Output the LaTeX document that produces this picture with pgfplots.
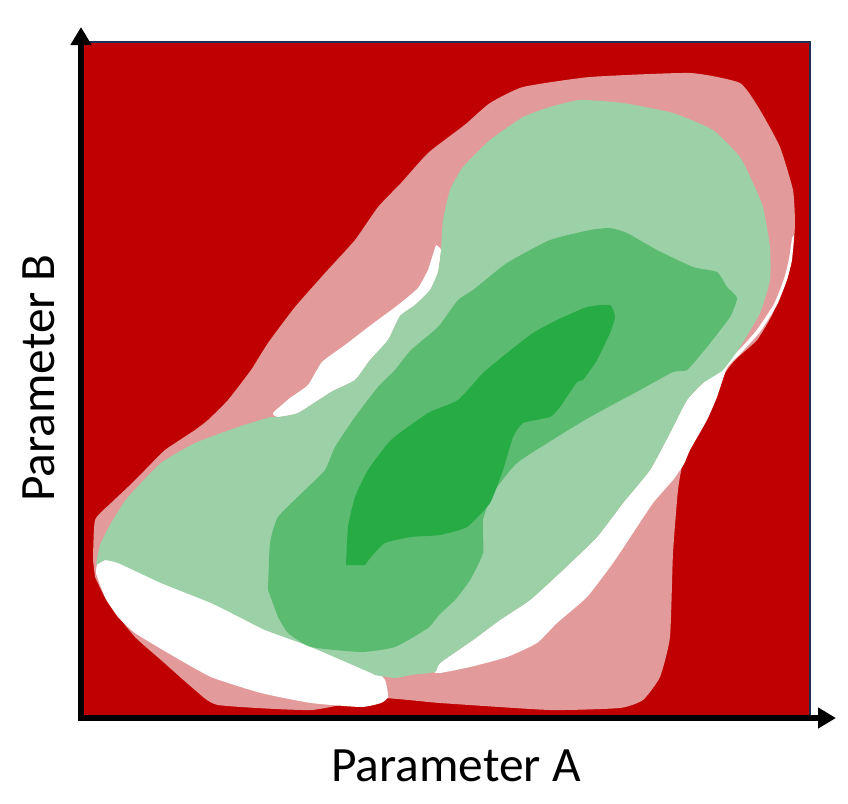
\documentclass[border=0pt]{standalone}
\usepackage{pgfplots}
\pgfplotsset{compat=1.18}
\usetikzlibrary{arrows.meta}
\usepackage{fontspec}
\setmainfont{Carlito}
\definecolor{bgred}{HTML}{C00000}
\definecolor{pinkc}{HTML}{E39A9B}
\definecolor{lgreen}{HTML}{9CD0A7}
\definecolor{mgreen}{HTML}{5BBB70}
\definecolor{dgreen}{HTML}{27AB45}
\definecolor{navy}{HTML}{1F3050}
\begin{document}
\begin{tikzpicture}
\begin{axis}[scale only axis, width=364.5pt, height=337.5pt,
  xmin=81, xmax=810, ymin=42, ymax=717, y dir=reverse,
  axis lines=none, clip=false]
% background
\addplot[fill=bgred, draw=navy, line width=0.8pt] coordinates {(81,42) (810,42) (810,717) (81,717)} -- cycle;
% pink
\addplot[fill=pinkc, draw=none, smooth, tension=0.3] coordinates {
(93,560) (95,520) (111,503) (128,487) (145,470) (165,450) (195,430) (208,420) (228,400) (251,370)
(268,343) (295,307) (325,273) (355,240) (378,207) (401,183) (428,153) (458,130) (467,123) (490,103)
(523,87) (590,77) (690,73) (740,83) (760,110) (780,147) (793,190) (795,223) (793,250) (787,273)
(773,313) (757,340) (735,360) (720,380) (706,410) (692,445) (683,462) (678,490) (673,553) (670,637)
(660,677) (643,700) (620,708) (550,710) (440,703) (378,698) (311,710) (218,705) (195,690) (161,660)
(135,637) (108,603) (95,577)} -- cycle;
% white right band
\addplot[fill=white, draw=none, smooth, tension=0.3] coordinates {
(794,235) (792,260) (787,280) (777,305) (760,332) (740,354) (727,368) (717,397) (707,420) (690,450)
(684,464) (673,480) (653,503) (633,533) (613,563) (587,597) (557,623) (537,643) (507,657) (470,667)
(440,673) (434,672) (440,663) (473,640) (500,620) (530,600) (563,570) (597,537) (623,503) (650,470)
(670,433) (687,400) (703,383) (718,368) (737,352) (756,331) (774,304) (784,279) (789,259) (792,238)} -- cycle;
% white upper-left sliver
\addplot[fill=white, draw=none, smooth, tension=0.3] coordinates {
(436,245) (441,250) (438,272) (430,290) (415,305) (400,316) (388,340) (370,360) (355,380) (331,392)
(298,413) (278,417) (273,413) (290,398) (308,385) (322,362) (345,345) (371,325) (398,305)
(418,288) (428,270)} -- cycle;
% white bottom-left band
\addplot[fill=white, draw=none, smooth, tension=0.3] coordinates {
(111,538) (112,552) (125,562) (161,578) (211,598) (245,614) (265,624) (311,641) (371,667) (385,680)
(388,697) (381,703) (361,707) (311,703) (261,693) (211,677) (168,653) (135,633) (118,617) (105,597)
(96,573) (98,560)} -- cycle;
% light green
\addplot[fill=lgreen, draw=none, smooth, tension=0.3] coordinates {
(96,565) (100,545) (111,523) (128,497) (161,463) (195,443) (238,427) (271,417) (278,417) (298,413)
(331,392) (355,380) (370,360) (388,340) (400,316) (415,305) (430,290) (438,272) (441,250) (443,220)
(450,190) (463,167) (490,140) (523,117) (550,107) (580,100) (623,103) (673,113) (713,130) (740,157)
(753,183) (763,207) (770,247) (770,280) (760,313) (740,347) (723,370) (703,383) (687,400) (670,433)
(650,470) (623,503) (597,537) (563,570) (530,600) (500,620) (473,640) (440,663) (435,672) (411,675)
(395,678) (375,675) (371,673) (311,647) (265,630) (245,620) (211,603) (161,583) (118,563) (105,560)} -- cycle;
% medium green
\addplot[fill=mgreen, draw=none, smooth, tension=0.3] coordinates {
(268,590) (270,543) (278,517) (305,490) (325,470) (335,447) (355,417) (378,387) (395,370) (411,350)
(438,327) (458,300) (473,290) (507,263) (550,240) (590,230) (610,228) (627,233) (657,250) (693,267)
(717,272) (727,287) (737,298) (730,317) (707,347) (687,370) (673,372) (640,390) (590,417) (557,437)
(517,463) (493,493) (483,520) (483,553) (470,580) (455,600) (440,614) (428,628) (395,647) (361,652)
(311,647) (288,633) (278,617)} -- cycle;
% dark green
\addplot[fill=dgreen, draw=none, smooth, tension=0.3] coordinates {
(346,565) (348,527) (355,497) (368,470) (391,440) (428,413) (458,400) (483,373) (507,353) (533,333)
(557,320) (587,307) (610,305) (615,317) (610,333) (597,360) (583,380) (577,382) (560,407) (550,417)
(523,423) (513,437) (503,470) (490,503) (467,527) (440,535) (411,537) (385,543) (371,557) (365,565)} -- cycle;
% axes
\draw[line width=2.6pt, line join=miter, {Triangle[length=9pt,width=10pt]}-{Triangle[length=9pt,width=10pt]}]
  (axis cs:81,27) -- (axis cs:81,718) -- (axis cs:836,718);
\node[inner sep=0pt, font=\fontsize{24.7}{28}\selectfont] at (axis cs:456,766) {Parameter A};
\node[inner sep=0pt, rotate=90, font=\fontsize{24.7}{28}\selectfont] at (axis cs:39,378) {Parameter B};
\coordinate (bbA) at (axis cs:0,0);
\coordinate (bbB) at (axis cs:848,804);
\end{axis}
\path (bbA) rectangle (bbB);
\end{tikzpicture}
\end{document}
